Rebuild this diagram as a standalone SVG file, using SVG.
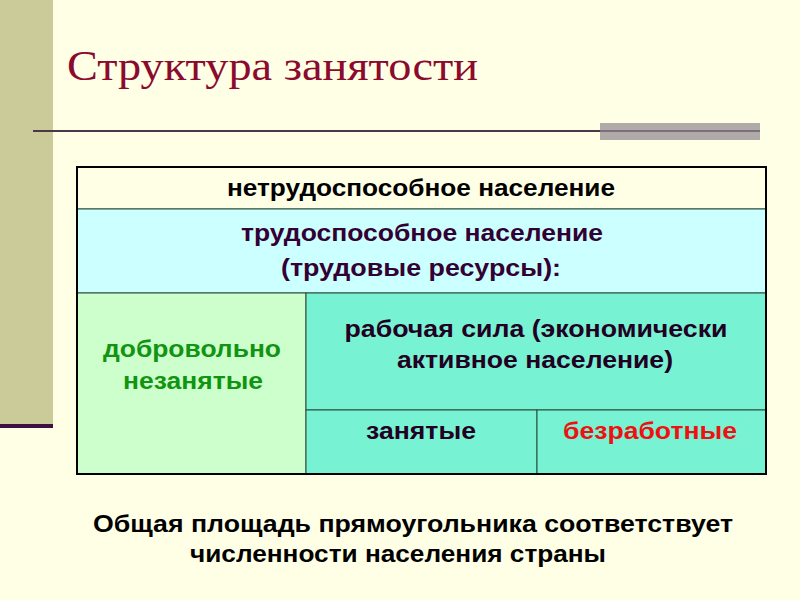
<svg xmlns="http://www.w3.org/2000/svg" width="800" height="600" viewBox="0 0 800 600">
<style>
.t{font-family:"Liberation Sans",Arial,sans-serif;font-weight:bold;font-size:23px;text-anchor:middle}
.cell{stroke:#2a4a3a;stroke-width:1}
</style>
<rect width="800" height="600" fill="#FFFFE5"/>
<rect x="0" y="0" width="53" height="424" fill="#CBCB9A"/>
<rect x="0" y="424" width="53" height="4" fill="#3C1040"/>
<line x1="33" y1="131" x2="760" y2="131" stroke="#4B3848" stroke-width="2"/>
<rect x="600" y="123" width="160" height="17" fill="#8E8890" opacity="0.7"/>
<text x="67" y="80" font-family="Liberation Serif,Times New Roman,serif" font-size="42" fill="#8B0A2E" textLength="411" lengthAdjust="spacingAndGlyphs">Структура занятости</text>
<g id="table">
<g id="row1"><rect class="cell" x="77" y="167" width="689" height="42" fill="#FFFFE5"/>
<text class="t" x="421" y="196" fill="#000" textLength="388" lengthAdjust="spacingAndGlyphs">нетрудоспособное население</text></g>
<g id="row2"><rect class="cell" x="77" y="209" width="689" height="84" fill="#CCFFFF"/>
<text class="t" x="422" y="241" fill="#330033" textLength="362" lengthAdjust="spacingAndGlyphs">трудоспособное население</text>
<text class="t" x="421" y="276" fill="#330033" textLength="280" lengthAdjust="spacingAndGlyphs">(трудовые ресурсы):</text></g>
<g id="vol"><rect class="cell" x="77" y="293" width="229" height="181" fill="#CCFFCC"/>
<text class="t" x="192" y="357" fill="#119411" textLength="178" lengthAdjust="spacingAndGlyphs">добровольно</text>
<text class="t" x="193" y="389" fill="#119411" textLength="140" lengthAdjust="spacingAndGlyphs">незанятые</text></g>
<g id="labor"><rect class="cell" x="306" y="293" width="460" height="117" fill="#77F2D2"/>
<text class="t" x="536" y="337" fill="#220022" textLength="383" lengthAdjust="spacingAndGlyphs">рабочая сила (экономически</text>
<text class="t" x="535" y="368" fill="#220022" textLength="276" lengthAdjust="spacingAndGlyphs">активное население)</text></g>
<g id="emp"><rect class="cell" x="306" y="410" width="231" height="64" fill="#77F2D2"/>
<text class="t" x="421" y="439" fill="#220022" textLength="110" lengthAdjust="spacingAndGlyphs">занятые</text></g>
<g id="unemp"><rect class="cell" x="537" y="410" width="229" height="64" fill="#77F2D2"/>
<text class="t" x="650" y="439" fill="#EE1111" textLength="174" lengthAdjust="spacingAndGlyphs">безработные</text></g>
<rect x="77" y="167" width="689" height="307" fill="none" stroke="#000" stroke-width="2"/>
</g>
<text class="t" x="413" y="532" font-size="24" fill="#000" textLength="640" lengthAdjust="spacingAndGlyphs">Общая площадь прямоугольника соответствует</text>
<text class="t" x="398" y="562" font-size="24" fill="#000" textLength="416" lengthAdjust="spacingAndGlyphs">численности населения страны</text>
</svg>
